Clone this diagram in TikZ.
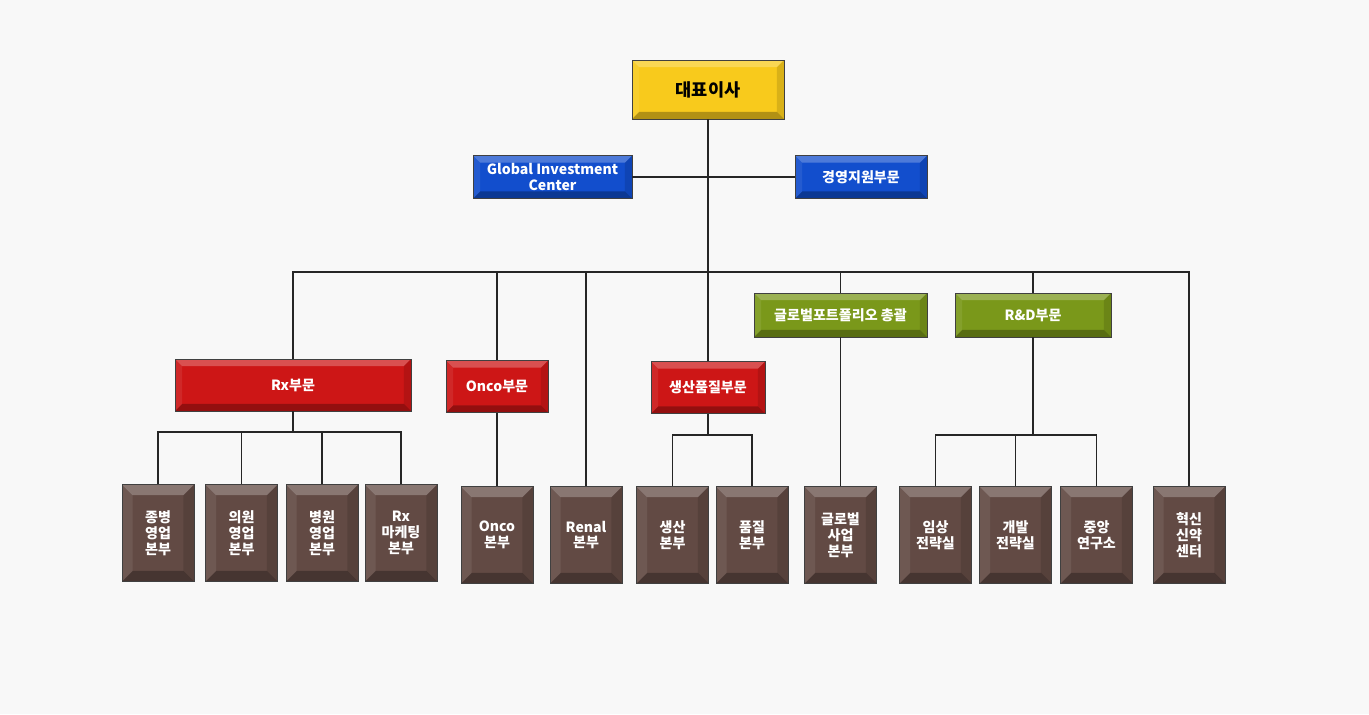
\documentclass[tikz,border=0pt]{standalone}
\usepackage{fontspec}
\setmainfont{Noto Sans CJK KR}
\usepackage{xcolor}
\definecolor{paper}{RGB}{248,248,248}
\definecolor{ceoyellow}{RGB}{248,202,28}
\definecolor{staffblue}{RGB}{18,78,205}
\definecolor{divred}{RGB}{205,22,22}
\definecolor{pfgreen}{RGB}{122,152,26}
\definecolor{unitbrown}{RGB}{98,74,68}
\newcommand{\bevelfaces}[1]{%
  \path (path picture bounding box.north west) coordinate (bnw)
        (path picture bounding box.north east) coordinate (bne)
        (path picture bounding box.south west) coordinate (bsw)
        (path picture bounding box.south east) coordinate (bse);
  \fill[white, opacity=0.25] (bnw) -- (bne) -- ([shift={(-#1,-#1)}]bne) -- ([shift={(#1,-#1)}]bnw) -- cycle;
  \fill[black, opacity=0.28] (bsw) -- (bse) -- ([shift={(-#1,#1)}]bse) -- ([shift={(#1,#1)}]bsw) -- cycle;
  \fill[black, opacity=0.12] (bne) -- (bse) -- ([shift={(-#1,#1)}]bse) -- ([shift={(-#1,-#1)}]bne) -- cycle;
  \fill[white, opacity=0.08] (bnw) -- (bsw) -- ([shift={(#1,#1)}]bsw) -- ([shift={(#1,-#1)}]bnw) -- cycle;
}
\tikzset{
    box/.style={draw=black!75, line width=0.4pt, inner sep=0pt, align=center, text=white,
        font=\bfseries\fontsize{8}{9}\selectfont, path picture={\bevelfaces{4pt}}},
    ceo/.style={box, fill=ceoyellow, text=black, font=\bfseries\fontsize{10}{12}\selectfont,
        minimum width=3.04cm, minimum height=1.18cm},
    staff/.style={box, fill=staffblue, minimum width=#1, minimum height=0.86cm},
    division/.style={box, fill=divred, minimum width=#1, minimum height=1.04cm},
    portfolio/.style={box, fill=pfgreen, minimum width=#1, minimum height=0.88cm},
    unit/.style={box, fill=unitbrown, minimum width=1.44cm, minimum height=1.94cm,
        path picture={\bevelfaces{6pt}}},
    link/.style={draw=black!85, line width=0.65pt}
}
\begin{document}
\begin{tikzpicture}[x=0.02cm, y=-0.02cm]
    \fill[paper] (0,0) rectangle (1369,714);
    % upper levels
    \node[ceo] (ceo) at (708,89.5) {대표이사};
    \node[staff=3.18cm] (gic) at (552.5,177) {Global Investment\\Center};
    \node[staff=2.64cm] (mgmt) at (861,177) {경영지원부문};
    \coordinate (hub) at (708,272);
    \node[division=4.72cm] (rx) at (293,385) {Rx부문};
    \node[division=2.04cm] (onco) at (497,386.5) {Onco부문};
    \node[division=2.28cm] (prod) at (708,387.5) {생산품질부문};
    \node[portfolio=3.46cm] (gpf) at (840.5,315) {글로벌포트폴리오 총괄};
    \node[portfolio=3.12cm] (rnd) at (1033,315) {R\&D부문};
    % units
    \node[unit] (hosp) at (158,533) {종병\\영업\\본부};
    \node[unit] (clinic) at (241.5,533) {의원\\영업\\본부};
    \node[unit] (general) at (322,533) {병원\\영업\\본부};
    \node[unit] (rxmkt) at (401,533) {Rx\\마케팅\\본부};
    \node[unit] (oncob) at (497,535) {Onco\\본부};
    \node[unit] (renal) at (586,535) {Renal\\본부};
    \node[unit] (mfg) at (672.5,535) {생산\\본부};
    \node[unit] (qual) at (752,535) {품질\\본부};
    \node[unit] (gbiz) at (840.5,535) {글로벌\\사업\\본부};
    \node[unit] (clin) at (935.5,535) {임상\\전략실};
    \node[unit] (dev) at (1015.5,535) {개발\\전략실};
    \node[unit] (lab) at (1096.5,535) {중앙\\연구소};
    \node[unit] (innov) at (1189,535) {혁신\\신약\\센터};
    % connectors
    \draw[link] (ceo) -- (hub);
    \draw[link] (gic) -- (mgmt);
    \draw[link] (rx) |- (hub) -| (innov);
    \draw[link] (onco) -- (onco |- hub);
    \draw[link] (renal) -- (renal |- hub);
    \draw[link] (prod) -- (hub);
    \draw[link] (gpf) -- (gpf |- hub);
    \draw[link] (rnd) -- (rnd |- hub);
    \coordinate (rxj) at (293,432);
    \draw[link] (rx) -- (rxj);
    \draw[link] (hosp) |- (rxj) -| (rxmkt);
    \draw[link] (clinic) -- (clinic |- rxj);
    \draw[link] (general) -- (general |- rxj);
    \draw[link] (onco) -- (oncob);
    \coordinate (prodj) at (708,435);
    \draw[link] (prod) -- (prodj);
    \draw[link] (mfg) |- (prodj) -| (qual);
    \draw[link] (gpf) -- (gbiz);
    \coordinate (rndj) at (1033,435);
    \draw[link] (rnd) -- (rndj);
    \draw[link] (clin) |- (rndj) -| (lab);
    \draw[link] (dev) -- (dev |- rndj);
\end{tikzpicture}
\end{document}
